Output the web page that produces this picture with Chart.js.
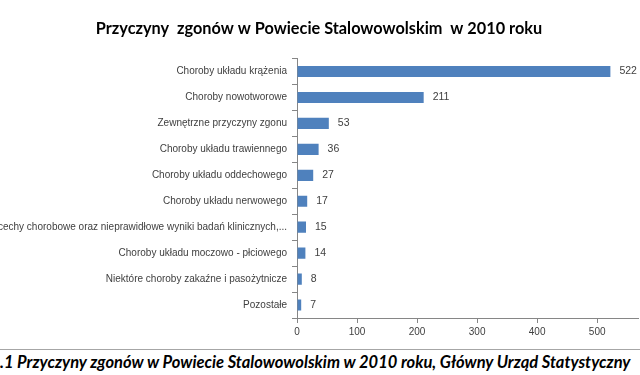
<!DOCTYPE html>
<html>
<head>
<meta charset="utf-8">
<script src="https://cdn.jsdelivr.net/npm/chart.js@4"></script>
<style>
  body { margin: 0; background: #fff; width: 640px; height: 375px; overflow: hidden; position: relative; }
  #wrap { position: absolute; left: 0; top: 0; width: 640px; height: 340px; }
  #linia { position: absolute; left: 0; top: 349px; width: 640px; border-top: 1px solid #a6a6a6; }
  #podpis { position: absolute; left: 0; top: 352px; font: italic bold 16.5px Lato; white-space: nowrap; color: #000; }
</style>
</head>
<body>
<div id="wrap"><canvas id="wykres"></canvas></div>
<div id="linia"></div>
<div id="podpis">.1 Przyczyny zgonów w Powiecie Stalowowolskim w 2010 roku, Główny Urząd Statystyczny</div>
<script>
// przyczyny zgonów (kolejność jak na wykresie, od góry)
const przyczyny = [
  "Choroby układu krążenia",
  "Choroby nowotworowe",
  "Zewnętrzne przyczyny zgonu",
  "Choroby układu trawiennego",
  "Choroby układu oddechowego",
  "Choroby układu nerwowego",
  "cechy chorobowe oraz nieprawidłowe wyniki badań klinicznych,...",
  "Choroby układu moczowo - płciowego",
  "Niektóre choroby zakaźne i pasożytnicze",
  "Pozostałe",
];
const liczbaZgonow = [522, 211, 53, 36, 27, 17, 15, 14, 8, 7];
const tytul = "Przyczyny  zgonów w Powiecie Stalowowolskim  w 2010 roku";

// etykiety z wartościami obok słupków
const etykietyWartosci = {
  id: "etykietyWartosci",
  afterDatasetsDraw(chart) {
    const ctx = chart.ctx;
    const meta = chart.getDatasetMeta(0);
    ctx.save();
    ctx.font = "10.5px 'Liberation Sans'";
    ctx.fillStyle = "#404040";
    ctx.textBaseline = "middle";
    ctx.textAlign = "left";
    meta.data.forEach((bar, i) => {
      ctx.fillText(liczbaZgonow[i], bar.x + 9, bar.y);
    });
    ctx.restore();
  },
};

const config = {
  type: "bar",
  data: {
    labels: przyczyny,
    datasets: [{
      data: liczbaZgonow,
      backgroundColor: "#4f81bd",
      barPercentage: 0.43,
      categoryPercentage: 1,
    }],
  },
  options: {
    indexAxis: "y",
    responsive: true,
    maintainAspectRatio: false,
    animation: false,
    layout: { padding: { left: 0, right: 2, top: 0, bottom: 0 } },
    plugins: {
      legend: { display: false },
      tooltip: { enabled: false },
      title: {
        display: true,
        text: tytul,
        color: "#000",
        font: { family: "Lato", size: 16.3, weight: "bold" },
        padding: { top: 19, bottom: 20 },
      },
    },
    scales: {
      x: {
        min: 0,
        max: 568,
        afterBuildTicks(scale) {
          scale.ticks = scale.ticks.filter((t) => t.value % 100 === 0);
        },
        afterFit(scale) { scale.height = 22; },
        ticks: {
          stepSize: 100,
          color: "#404040",
          padding: 3,
          font: { family: "Liberation Sans", size: 10 },
        },
        grid: { drawOnChartArea: false, tickLength: 5, color: "#868686" },
        border: { color: "#868686" },
      },
      y: {
        afterFit(scale) { scale.width = 297; },
        ticks: {
          color: "#404040",
          padding: 5,
          autoSkip: false,
          font: { family: "Liberation Sans", size: 10 },
        },
        grid: { drawOnChartArea: false, offset: true, tickLength: 5, color: "#868686" },
        border: { color: "#868686" },
      },
    },
  },
  plugins: [etykietyWartosci],
};

new Chart(document.getElementById("wykres"), config);
</script>
</body>
</html>
